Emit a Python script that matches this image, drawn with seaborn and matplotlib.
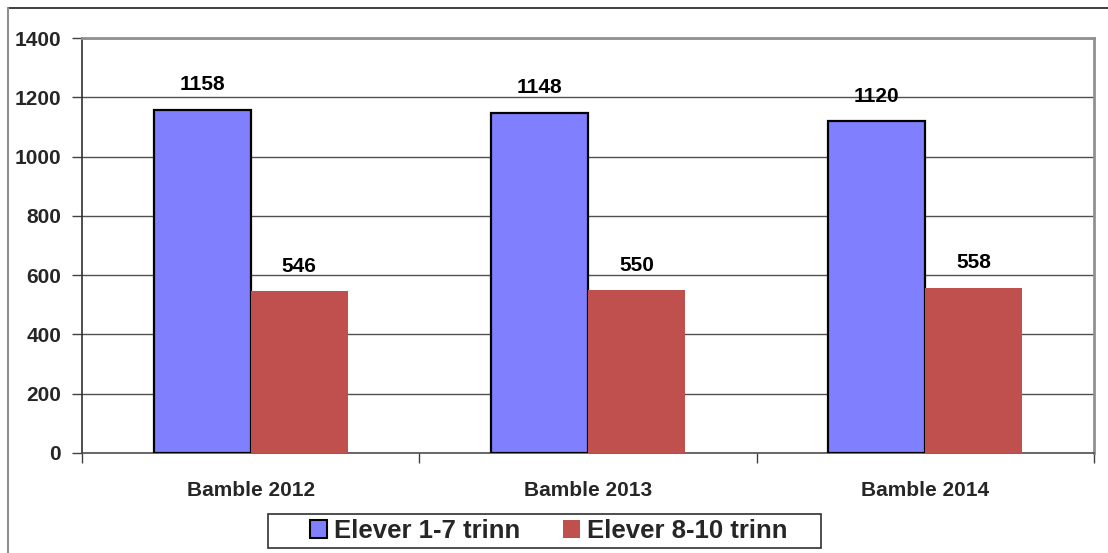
import matplotlib
matplotlib.use("Agg")
import matplotlib.pyplot as plt
import seaborn as sns
import pandas as pd
from matplotlib.lines import Line2D
from matplotlib.patches import Patch, Rectangle

categories = ["Bamble 2012", "Bamble 2013", "Bamble 2014"]
series_names = ["Elever 1-7 trinn", "Elever 8-10 trinn"]
elever_1_7 = [1158, 1148, 1120]
elever_8_10 = [546, 550, 558]
y_ticks = [0, 200, 400, 600, 800, 1000, 1200, 1400]

colors = ["#8080FF", "#C0504D"]
edges = ["black", "none"]

df = pd.DataFrame({
    "kategori": categories * 2,
    "serie": [series_names[0]] * 3 + [series_names[1]] * 3,
    "verdi": elever_1_7 + elever_8_10,
})

sns.set_theme(style="white")
plt.rcParams["font.family"] = ["Liberation Sans", "DejaVu Sans"]
plt.rcParams["font.weight"] = "bold"

fs = 15
fs_leg = 18.5

W, H = 1108, 553
fig = plt.figure(figsize=(W / 100, H / 100), dpi=100)
ax = fig.add_axes([82 / W, 1 - 453 / H, (1094 - 82) / W, (453 - 38) / H])

sns.barplot(data=df, x="kategori", y="verdi", hue="serie", order=categories,
            hue_order=series_names, palette=colors, width=0.576, ax=ax,
            saturation=1, legend=False, zorder=3)

for i, cont in enumerate(ax.containers):
    for bar in cont:
        bar.set_edgecolor(edges[i])
        bar.set_linewidth(1.6 if edges[i] != "none" else 0)
    ax.bar_label(cont, labels=[str(v) for v in (elever_1_7 if i == 0 else elever_8_10)],
                 padding=11, fontsize=fs, fontweight="bold", color="black")

ax.set_ylim(0, 1400)
ax.set_xlim(-0.5, len(categories) - 0.5)
ax.set_yticks(y_ticks)
ax.set_yticklabels([str(t) for t in y_ticks], fontsize=fs, fontweight="bold")
ax.set_xticks(range(len(categories)))
ax.set_xticklabels(categories, fontsize=fs, fontweight="bold")
ax.set_xticks([i - 0.5 for i in range(len(categories) + 1)], minor=True)
ax.tick_params(axis="x", which="major", length=0, pad=20)
ax.tick_params(axis="x", which="minor", length=7, width=1, color="#404040", direction="out", bottom=True)
ax.tick_params(axis="y", length=7, width=1, color="#404040", direction="out", pad=8, left=True)
ax.set_xlabel("")
ax.set_ylabel("")
ax.yaxis.grid(True, color="#505050", linewidth=1, zorder=0)
ax.set_axisbelow(True)

for s in ["top", "right"]:
    ax.spines[s].set_color("#909090")
    ax.spines[s].set_linewidth(2)
ax.spines["left"].set_color("#303030")
ax.spines["left"].set_linewidth(1.2)
ax.spines["bottom"].set_color("#505050")
ax.spines["bottom"].set_linewidth(1.2)

# legend box
fig.add_artist(Rectangle((268 / W, 1 - 548 / H), (821 - 268) / W, 34 / H,
                         transform=fig.transFigure, facecolor="white",
                         edgecolor="#303030", linewidth=1.2, zorder=5))
handles = [Patch(facecolor=colors[0], edgecolor="black", linewidth=1.5),
           Patch(facecolor=colors[1], edgecolor="none")]
leg = fig.legend(handles, series_names, loc="center", bbox_to_anchor=(549 / W, 1 - 531 / H),
                 ncol=2, frameon=False, prop={"size": fs_leg, "weight": "bold"},
                 handlelength=0.66, handleheight=0.66, handletextpad=0.27, columnspacing=1.67,
                 borderpad=0, borderaxespad=0)
leg.set_zorder(6)

fig.add_artist(Line2D([8 / W, 1.0], [1 - 8 / H, 1 - 8 / H], color="#202020", linewidth=1.2))
fig.add_artist(Line2D([8 / W, 8 / W], [0, 1 - 8 / H], color="#909090", linewidth=1.5))

fig.savefig("out.png", dpi=100)
